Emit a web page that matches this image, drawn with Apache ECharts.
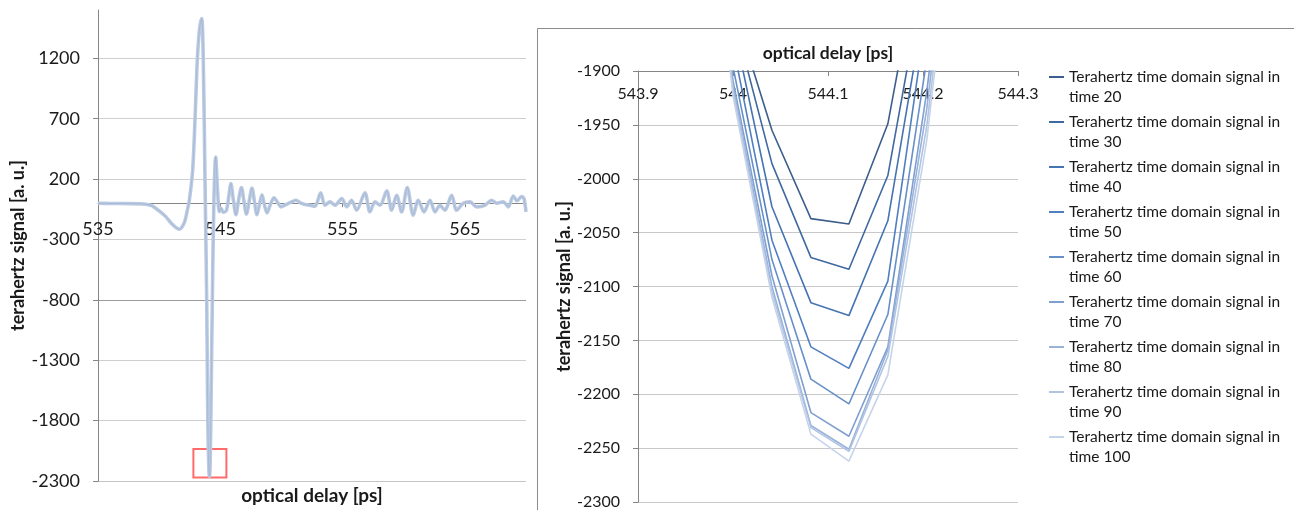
<!DOCTYPE html>
<html>
<head>
<meta charset="utf-8">
<script src="https://cdn.jsdelivr.net/npm/echarts@6/dist/echarts.min.js"></script>
<style>
  html, body { margin: 0; padding: 0; background: #ffffff; }
  #chart { width: 1294px; height: 510px; }
</style>
</head>
<body>
<div id="chart"></div>
<script>
// ---- Left panel: full terahertz waveform ----
const waveDelay = [
  535.0, 536.0, 537.56, 538.5, 538.92, 539.4, 539.74, 540.2, 540.56, 540.9,
  541.24, 541.65, 542.06, 542.3, 542.47, 542.74, 542.93, 543.12, 543.3, 543.48,
  543.61, 543.75, 543.89, 543.959, 544.0, 544.041, 544.082, 544.122, 544.163, 544.204,
  544.245, 544.35, 544.48, 544.62, 544.78, 544.92, 545.05, 545.25, 545.5, 545.7,
  545.87, 546.05, 546.28, 546.5, 546.73, 546.93, 547.14, 547.37, 547.59, 547.8,
  548.0, 548.2, 548.41, 548.6, 548.82, 549.1, 549.39, 549.7, 549.96, 550.29,
  550.7, 551.19, 551.6, 551.93, 552.33, 552.74, 553.21, 553.56, 553.97, 554.38,
  554.93, 555.34, 555.74, 556.15, 556.83, 557.24, 557.65, 558.06, 558.61, 559.01,
  559.42, 559.83, 560.29, 560.78, 561.19, 561.66, 562.15, 562.56, 562.96, 563.37,
  563.92, 564.33, 564.87, 565.42, 565.96, 566.64, 567.19, 567.6, 568.14, 568.55,
  568.96, 569.26, 569.64, 569.83, 570.0
];
const waveSignal = [
  0, -2, -3, -5, -8, -20, -44, -80, -113, -155,
  -190, -215, -160, -60, 25, 273, 687, 1184, 1440, 1530,
  1184, 190, -803, -1600, -1923, -2110, -2237, -2262, -2182, -1964,
  -1650, -803, 25, 383, 100, -70, -40, -75, -60, 60,
  163, 40, -95, 30, 130, 20, -90, 20, 125, 10,
  -95, -10, 70, -10, -80, -10, 45, 5, -30, -15,
  5, 25, 0, -10, -17, -25, 86, -17, 11, -17,
  39, -30, 25, -58, 86, -72, 11, -17, 102, -58,
  66, -72, 130, -99, 25, -72, 25, -72, -17, -58,
  66, -58, 0, 11, -30, -17, 25, 0, 11, -30,
  60, 20, 55, 40, -72
];
const zoomBoxDelay = [542.8, 545.5];
const zoomBoxSignal = [-2270, -2035];

// ---- Right panel: zoom on the minimum ----
const zoomDelay = [543.959, 544.000, 544.041, 544.082, 544.122, 544.163, 544.204, 544.245];
const seriesNames = [
  'Terahertz time domain signal in time 20',
  'Terahertz time domain signal in time 30',
  'Terahertz time domain signal in time 40',
  'Terahertz time domain signal in time 50',
  'Terahertz time domain signal in time 60',
  'Terahertz time domain signal in time 70',
  'Terahertz time domain signal in time 80',
  'Terahertz time domain signal in time 90',
  'Terahertz time domain signal in time 100'
];
const time20  = [-1550, -1839, -1955, -2037, -2042, -1949, -1755, -1500];
const time30  = [-1560, -1847, -1986, -2073, -2084, -1997, -1797, -1530];
const time40  = [-1570, -1856, -2026, -2115, -2127, -2039, -1826, -1560];
const time50  = [-1580, -1876, -2057, -2156, -2176, -2095, -1846, -1580];
const time60  = [-1590, -1896, -2075, -2186, -2209, -2126, -1889, -1600];
const time70  = [-1600, -1909, -2090, -2217, -2239, -2156, -1919, -1620];
const time80  = [-1600, -1914, -2100, -2229, -2251, -2159, -1935, -1630];
const time90  = [-1600, -1918, -2105, -2231, -2253, -2165, -1951, -1640];
const time100 = [-1600, -1923, -2110, -2237, -2262, -2182, -1964, -1650];
const zoomValues = [time20, time30, time40, time50, time60, time70, time80, time90, time100];
const seriesColors = ['#3b5e8c', '#3f69a0', '#4674b2', '#4f7fbe', '#6790c8', '#7f9fd0', '#98b2d9', '#b0c3e2', '#c6d4ea'];

// axis ranges / tick steps
const leftYMin = -2300, leftYMax = 1600, leftYStep = 500;
const leftXMin = 535, leftXMax = 570, leftXStep = 10;
const rightYMin = -2300, rightYMax = -1900, rightYStep = 50;
const rightXMin = 543.9, rightXMax = 544.3, rightXStep = 0.1;

const FONT = 'Lato';
const TXT = '#1a1a1a';
const AX = '#868686';

const plain = (v) => String(Math.round(v * 10) / 10);
const wavePairs = waveDelay.map((d, i) => [d, waveSignal[i]]);

const chart = echarts.init(document.getElementById('chart'));

const zoomSeries = zoomValues.map((vals, k) => ({
  name: seriesNames[k],
  type: 'line',
  xAxisIndex: 1,
  yAxisIndex: 1,
  data: zoomDelay.map((d, i) => [d, vals[i]]),
  symbol: 'none',
  lineStyle: { width: 1.6, color: seriesColors[k] },
  itemStyle: { color: seriesColors[k] },
  clip: true,
  z: 2 + k
}));

chart.setOption({
  animation: false,
  graphic: [{
    type: 'rect',
    silent: true,
    z: -10,
    shape: { x: 537.5, y: 28.5, width: 800, height: 600 },
    style: { fill: 'none', stroke: '#8c8c8c', lineWidth: 1 }
  }],
  grid: [
    { left: 98, right: 768, top: 10, bottom: 29, containLabel: false, outerBoundsMode: 'none' },
    { left: 638, right: 276, top: 71, bottom: 8, containLabel: false, outerBoundsMode: 'none' }
  ],
  legend: {
    data: seriesNames,
    orient: 'vertical',
    left: 1049,
    top: 47,
    padding: 0,
    itemGap: -15,
    itemWidth: 15,
    itemHeight: 2,
    icon: 'rect',
    selectedMode: false,
    formatter: (name) => ' \n' + name.replace(' in time ', ' in\ntime '),
    textStyle: { fontFamily: FONT, fontSize: 15.5, lineHeight: 20, color: TXT }
  },
  xAxis: [
    {
      type: 'value', gridIndex: 0,
      min: leftXMin, max: leftXMax, interval: leftXStep,
      axisLine: { show: true, onZero: false, lineStyle: { color: AX } },
      axisTick: { show: true, length: 4, lineStyle: { color: AX } },
      axisLabel: { fontFamily: FONT, fontSize: 18, color: TXT, margin: 17, showMaxLabel: false, formatter: plain },
      splitLine: { show: false },
      name: 'optical delay [ps]', nameLocation: 'middle', nameGap: 283,
      nameTextStyle: { fontFamily: FONT, fontSize: 19, fontWeight: 'bold', color: TXT }
    },
    {
      type: 'value', gridIndex: 1, position: 'top',
      min: rightXMin, max: rightXMax, interval: rightXStep,
      axisLine: { show: true, onZero: false, lineStyle: { color: AX } },
      axisTick: { show: true, inside: true, length: 5, lineStyle: { color: AX } },
      axisLabel: { inside: true, fontFamily: FONT, fontSize: 16, color: TXT, margin: 15, formatter: plain },
      splitLine: { show: false },
      name: 'optical delay [ps]', nameLocation: 'middle', nameGap: 9,
      nameTextStyle: { fontFamily: FONT, fontSize: 17.5, fontWeight: 'bold', color: TXT }
    }
  ],
  yAxis: [
    {
      type: 'value', gridIndex: 0,
      min: leftYMin, max: leftYMax, interval: leftYStep,
      axisLine: { show: true, onZero: false, lineStyle: { color: AX } },
      axisTick: { show: true, length: 5, lineStyle: { color: AX } },
      axisLabel: { fontFamily: FONT, fontSize: 18, color: TXT, margin: 18, showMaxLabel: false, formatter: plain },
      splitLine: { show: true, showMaxLine: false,
        lineStyle: { color: ['#c4c4c4', '#cfcfcf', '#cfcfcf', '#9a9a9a', '#cfcfcf', '#cfcfcf', '#cfcfcf', '#cfcfcf', '#cfcfcf'] } },
      name: 'terahertz signal [a. u.]', nameLocation: 'middle', nameGap: 70,
      nameTextStyle: { fontFamily: FONT, fontSize: 18, fontWeight: 'bold', color: TXT }
    },
    {
      type: 'value', gridIndex: 1,
      min: rightYMin, max: rightYMax, interval: rightYStep,
      axisLine: { show: true, onZero: false, lineStyle: { color: AX } },
      axisTick: { show: true, length: 5, lineStyle: { color: AX } },
      axisLabel: { fontFamily: FONT, fontSize: 16, color: TXT, margin: 18, formatter: plain },
      splitLine: { show: true, lineStyle: { color: '#c8c8c8' } },
      name: 'terahertz signal [a. u.]', nameLocation: 'middle', nameGap: 64,
      nameTextStyle: { fontFamily: FONT, fontSize: 18, fontWeight: 'bold', color: TXT }
    }
  ],
  series: [
    {
      name: 'waveform', type: 'line', xAxisIndex: 0, yAxisIndex: 0,
      data: wavePairs, symbol: 'none', smooth: 0.3,
      lineStyle: { width: 3.6, color: '#bccbe1' },
      z: 2,
      markArea: {
        silent: true,
        itemStyle: { color: 'rgba(0,0,0,0)', borderColor: 'rgba(255,70,70,0.8)', borderWidth: 2 },
        data: [[
          { xAxis: zoomBoxDelay[0], yAxis: zoomBoxSignal[1] },
          { xAxis: zoomBoxDelay[1], yAxis: zoomBoxSignal[0] }
        ]]
      }
    },
    {
      name: 'waveform core', type: 'line', xAxisIndex: 0, yAxisIndex: 0,
      data: wavePairs, symbol: 'none', smooth: 0.3,
      lineStyle: { width: 0.8, color: '#7d99c6', opacity: 0.45 },
      z: 3
    }
  ].concat(zoomSeries)
});

// Move the left x axis so that it crosses the value axis at signal = 0
const zeroPx = chart.convertToPixel({ yAxisIndex: 0 }, 0);
const bottomPx = chart.convertToPixel({ yAxisIndex: 0 }, leftYMin);
chart.setOption({ xAxis: [{ offset: zeroPx - bottomPx }, {}] });
</script>
</body>
</html>
